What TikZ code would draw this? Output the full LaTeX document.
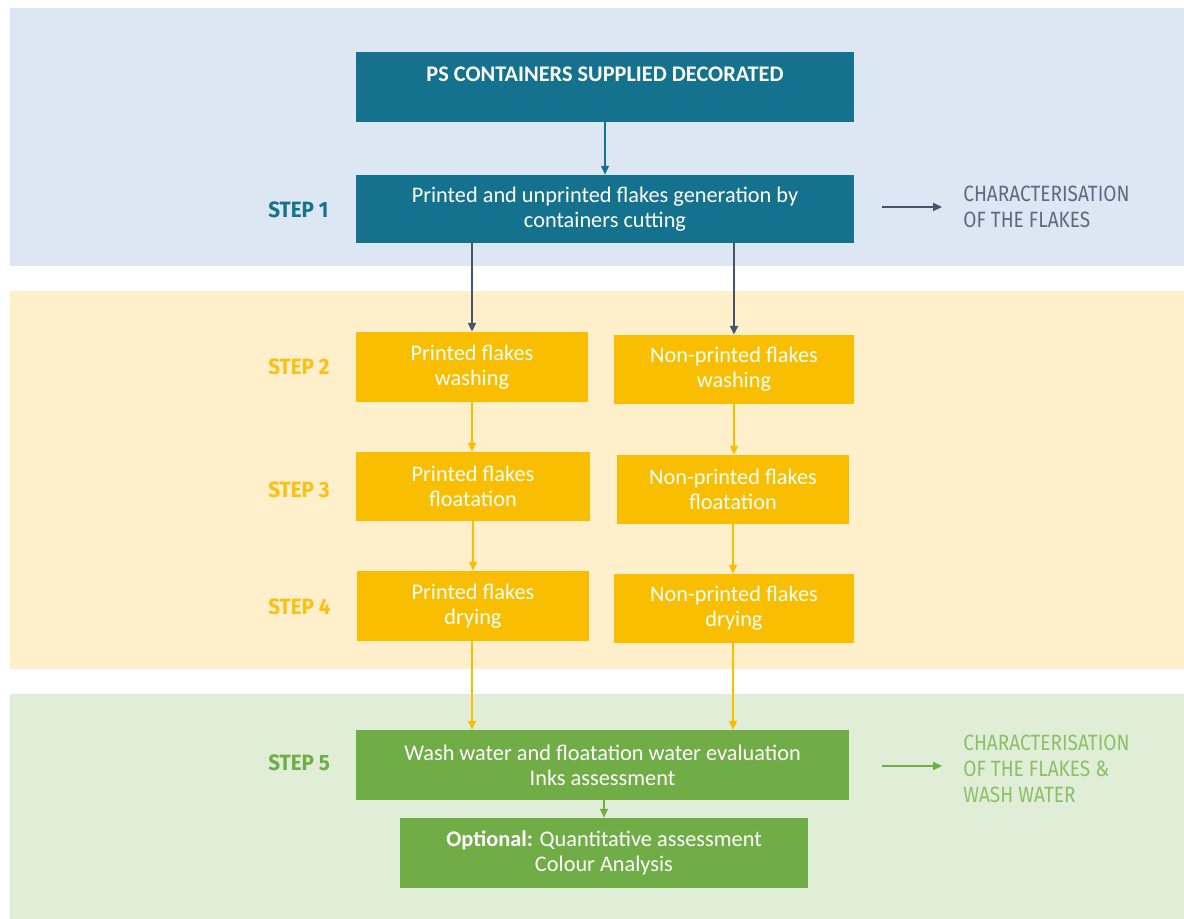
\documentclass[tikz,border=0pt]{standalone}
\usepackage{fontspec}
\setmainfont{Carlito}
\newfontfamily\stepfont[FakeStretch=0.93]{Fira Sans}
\newfontfamily\condfont[FakeStretch=0.86]{Fira Sans}
\usetikzlibrary{arrows.meta}
\definecolor{bandblue}{HTML}{DCE7F3}
\definecolor{bandyellow}{HTML}{FFEFCB}
\definecolor{bandgreen}{HTML}{E0EDD7}
\definecolor{teal}{HTML}{14728F}
\definecolor{gold}{HTML}{F9BE00}
\definecolor{leaf}{HTML}{70AD47}
\definecolor{slate}{HTML}{44546A}
\definecolor{slatetext}{HTML}{5B6B80}
\definecolor{leaftext}{HTML}{8CC066}
\definecolor{goldtext}{HTML}{FAC012}
\tikzset{
  px/.style={x=0.02cm,y=-0.02cm},
  box/.style={rectangle, inner sep=0pt, align=center, text=white,
    font=\fontsize{12.7pt}{14.2pt}\selectfont},
  tealbox/.style={box, fill=teal},
  goldbox/.style={box, fill=gold},
  leafbox/.style={box, fill=leaf},
  steplabel/.style={anchor=west, inner sep=0pt, font=\stepfont\bfseries\fontsize{12.6pt}{14pt}\selectfont},
  sidetext/.style={anchor=west, inner sep=0pt, align=left, font=\condfont\fontsize{12.6pt}{14.8pt}\selectfont},
  darrow/.style={draw=slate, line width=1.1pt, -{Triangle[length=5pt,width=4.5pt]}},
  garrow/.style={draw=gold, line width=0.85pt, -{Triangle[length=5pt,width=4.5pt]}},
  larrow/.style={draw=leaf, line width=0.85pt, -{Triangle[length=5pt,width=4.5pt]}},
  tarrow/.style={draw=teal, line width=0.85pt, -{Triangle[length=5pt,width=4.5pt]}},
}
\newcommand{\wpx}[1]{#1*0.02cm}
\begin{document}
\begin{tikzpicture}[px]
\useasboundingbox (0,0) rectangle (1184,919);
\fill[white] (0,0) rectangle (1184,919);
% bands
\fill[bandblue] (10,8) rectangle (1184,266);
\fill[bandyellow] (10,291) rectangle (1184,669);
\fill[bandgreen] (10,694) rectangle (1184,919);

% boxes
\node[tealbox, minimum width=\wpx{498}, minimum height=\wpx{70}] (top) at (605,87)
  {\textbf{PS CONTAINERS SUPPLIED DECORATED}\\ \mbox{}};
\node[tealbox, minimum width=\wpx{498}, minimum height=\wpx{68}] (s1) at (605,209)
  {Printed and unprinted flakes generation by\\containers cutting};
\node[goldbox, minimum width=\wpx{232}, minimum height=\wpx{70}] (p2) at (472,367)
  {Printed flakes\\washing};
\node[goldbox, minimum width=\wpx{240}, minimum height=\wpx{69}] (n2) at (734,369.5)
  {Non-printed flakes\\washing};
\node[goldbox, minimum width=\wpx{234}, minimum height=\wpx{69}] (p3) at (473,486.5)
  {Printed flakes\\floatation};
\node[goldbox, minimum width=\wpx{232}, minimum height=\wpx{69}] (n3) at (733,489.5)
  {Non-printed flakes\\floatation};
\node[goldbox, minimum width=\wpx{232}, minimum height=\wpx{70}] (p4) at (473,606)
  {Printed flakes\\drying};
\node[goldbox, minimum width=\wpx{240}, minimum height=\wpx{69}] (n4) at (734,608.5)
  {Non-printed flakes\\drying};
\node[leafbox, minimum width=\wpx{493}, minimum height=\wpx{70}] (s5) at (602.5,765)
  {Wash water and floatation water evaluation\\Inks assessment};
\node[leafbox, minimum width=\wpx{408}, minimum height=\wpx{70}] (opt) at (604,853)
  {\textbf{Optional:} Quantitative assessment\\Colour Analysis};

% step labels
\node[steplabel, text=teal] (l1) at (268,210) {STEP 1};
\node[steplabel, text=goldtext] (l2) at (268,367) {STEP 2};
\node[steplabel, text=goldtext] (l3) at (268,490) {STEP 3};
\node[steplabel, text=goldtext] (l4) at (268,607) {STEP 4};
\node[steplabel, text=leaf] (l5) at (268,763) {STEP 5};

% side texts
\coordinate (a1s) at (882,207);
\coordinate (a1e) at (942,207);
\node[sidetext, text=slatetext] (c1) at (963,207) {CHARACTERISATION\\OF THE FLAKES};
\coordinate (a5s) at (882,766);
\coordinate (a5e) at (942,766);
\node[sidetext, text=leaftext] (c5) at (963,769) {CHARACTERISATION\\OF THE FLAKES \&\\WASH WATER};

% connectors
\draw[tarrow] (top.south) -- (s1.north);
\draw[darrow] (s1.south -| p2) -- (p2.north);
\draw[darrow] (s1.south -| n2) -- (n2.north);
\draw[garrow] (p2.south) -- (p2.south |- p3.north);
\draw[garrow] (n2.south) -- (n2.south |- n3.north);
\draw[garrow] (p3.south) -- (p3.south |- p4.north);
\draw[garrow] (n3.south) -- (n3.south |- n4.north);
\draw[garrow] (p4.south -| p2) -- (p2 |- s5.north);
\draw[garrow] (n4.south -| n3) -- (n3 |- s5.north);
\draw[larrow] (opt.north |- s5.south) -- (opt.north);
\draw[darrow, line width=0.85pt] (a1s) -- (a1e);
\draw[larrow] (a5s) -- (a5e);
\end{tikzpicture}
\end{document}
